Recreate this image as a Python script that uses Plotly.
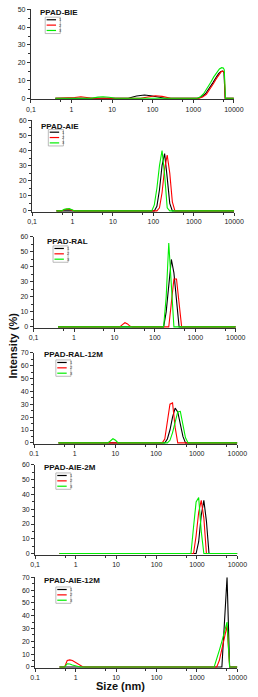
import plotly.graph_objects as go

# ---------------- DATA ----------------
panel_titles = ["PPAD-BIE", "PPAD-AIE", "PPAD-RAL", "PPAD-RAL-12M", "PPAD-AIE-2M", "PPAD-AIE-12M"]
series_names = ["1", "2", "3"]
y_max = [50, 60, 60, 70, 60, 70]
x_tickvals = [0.1, 1, 10, 100, 1000, 10000]
x_ticktext_comma = ["0,1", "1", "10", "100", "1000", "10000"]
x_ticktext_dot = ["0.1", "1", "10", "100", "1000", "10000"]

# PPAD-BIE
bie_1_size = [0.4, 25, 40, 63, 90, 140, 200, 1300, 1600, 2000, 2500, 3000, 3600, 4200, 4800, 5300, 5700, 6100, 10000]
bie_1_int = [0, 0, 1.2, 1.8, 1.4, 0.5, 0, 0, 0.8, 2.5, 5.5, 8.5, 11.5, 13.8, 15, 15.2, 14.5, 0, 0]
bie_2_size = [0.4, 0.9, 1.2, 1.7, 2.4, 3.3, 50, 80, 117, 170, 280, 1400, 1700, 2100, 2600, 3100, 3700, 4300, 4900, 5400, 5800, 6100, 10000]
bie_2_int = [0, 0, 0.4, 0.8, 0.5, 0, 0, 0.8, 1.4, 1.0, 0, 0, 0.6, 2.2, 5, 8, 11, 13.5, 15, 15.2, 14.5, 0, 0]
bie_3_size = [0.4, 3, 4.5, 6, 8.5, 12, 1250, 1500, 1800, 2200, 2700, 3200, 3800, 4400, 5000, 5500, 5800, 6200, 10000]
bie_3_int = [0, 0, 0.6, 0.8, 0.5, 0, 0, 0.8, 2.5, 5.5, 9, 12, 14.8, 16.5, 17.2, 17, 16, 0, 0]

# PPAD-AIE
aie_1_size = [0.4, 105.7, 122.4, 141.8, 164.2, 190.1, 220.2, 255, 295.3, 10000]
aie_1_int = [0, 0, 3, 14, 30, 38, 22, 5, 0, 0]
aie_2_size = [0.4, 0.5365, 0.6213, 0.7195, 0.8332, 0.9649, 1.117, 122.4, 141.8, 164.2, 190.1, 220.2, 255, 295.3, 342, 10000]
aie_2_int = [0, 0, 0.8, 1.2, 1.0, 0.3, 0, 0, 2, 12, 28, 37, 25, 6, 0, 0]
aie_3_size = [0.4, 0.5365, 0.6213, 0.7195, 0.8332, 0.9649, 1.117, 91.28, 105.7, 122.4, 141.8, 164.2, 190.1, 220.2, 255, 10000]
aie_3_int = [0, 0, 1.0, 1.5, 1.5, 0.8, 0, 0, 4, 15, 30, 40, 24, 2, 0, 0]

# PPAD-RAL
ral_1_size = [0.4, 164.2, 190.1, 220.2, 255, 295.3, 342, 396.1, 10000]
ral_1_int = [0, 0, 10, 30, 45, 36, 18, 0, 0]
ral_2_size = [0.4, 13.54, 15.69, 18.17, 21.04, 24.36, 28.21, 220.2, 255, 295.3, 342, 396.1, 458.7, 10000]
ral_2_int = [0, 0, 1.5, 2.8, 2.0, 0.4, 0, 0, 16, 32, 32, 14, 0, 0]
ral_3_size = [0.4, 164.2, 190.1, 220.2, 255, 295.3, 10000]
ral_3_int = [0, 0, 20, 56, 28, 0, 0]

# PPAD-RAL-12M
ral12_1_size = [0.4, 164.2, 190.1, 220.2, 255, 295.3, 342, 396.1, 458.7, 531.2, 10000]
ral12_1_int = [0, 0, 3, 10, 20, 27, 24, 15, 5, 0, 0]
ral12_2_size = [0.4, 141.8, 164.2, 190.1, 220.2, 255, 295.3, 342, 10000]
ral12_2_int = [0, 0, 3, 15, 30, 31, 12, 0, 0]
ral12_3_size = [0.4, 6.503, 7.531, 8.721, 10.1, 11.7, 190.1, 220.2, 255, 295.3, 342, 396.1, 458.7, 531.2, 615.1, 10000]
ral12_3_int = [0, 0, 1.5, 3.2, 2.0, 0, 0, 2, 8, 17, 24, 24.5, 14, 4, 0, 0]

# PPAD-AIE-2M
aie2_1_size = [0.4, 955.4, 1106, 1281, 1484, 1718, 1990, 10000]
aie2_1_int = [0, 0, 8, 26, 36, 22, 0, 0]
aie2_2_size = [0.4, 825, 955.4, 1106, 1281, 1484, 1718, 10000]
aie2_2_int = [0, 0, 12, 28, 36, 24, 0, 0]
aie2_3_size = [0.4, 712.4, 825, 955.4, 1106, 1281, 1484, 10000]
aie2_3_int = [0, 0, 18, 35, 38, 15, 0, 0]

# PPAD-AIE-12M
aie12_1_size = [0.4, 4145, 5560, 6439, 10000]
aie12_1_int = [0, 0, 70, 0, 0]
aie12_2_size = [0.4, 0.5365, 0.6213, 0.7195, 0.8332, 0.9649, 1.117, 1.294, 1.499, 1.736, 3091, 3580, 4145, 4801, 5560, 6439, 10000]
aie12_2_int = [0, 0, 5, 5.5, 5, 3.8, 2.2, 1, 0.2, 0, 0, 5, 14, 24, 32, 0, 0]
aie12_3_size = [0.4, 0.5365, 0.6213, 0.7195, 0.8332, 0.9649, 1.117, 1.294, 2669, 3091, 3580, 4145, 4801, 5560, 6439, 10000]
aie12_3_int = [0, 0, 2.5, 2.3, 1.5, 0.8, 0.2, 0, 0, 6, 13, 20, 28, 35, 0, 0]

panel_data = [
    [(bie_1_size, bie_1_int), (bie_2_size, bie_2_int), (bie_3_size, bie_3_int)],
    [(aie_1_size, aie_1_int), (aie_2_size, aie_2_int), (aie_3_size, aie_3_int)],
    [(ral_1_size, ral_1_int), (ral_2_size, ral_2_int), (ral_3_size, ral_3_int)],
    [(ral12_1_size, ral12_1_int), (ral12_2_size, ral12_2_int), (ral12_3_size, ral12_3_int)],
    [(aie2_1_size, aie2_1_int), (aie2_2_size, aie2_2_int), (aie2_3_size, aie2_3_int)],
    [(aie12_1_size, aie12_1_int), (aie12_2_size, aie12_2_int), (aie12_3_size, aie12_3_int)],
]

# ---------------- LAYOUT (pixel geometry) ----------------
W, H = 258, 697
colors = ["#000000", "#ff0000", "#00ee00"]
FONT = "Liberation Sans, Arial, sans-serif"
# per panel: y pixel of top tick, y pixel of zero, x pixel of 0.1, x pixel of 10000
geom = [
    (5.5, 95.0, 27.5, 243.0),
    (117.3, 208.7, 28.8, 243.3),
    (235.0, 325.7, 30.4, 245.0),
    (351.7, 442.7, 30.8, 246.7),
    (465.0, 554.3, 32.0, 246.7),
    (578.3, 668.7, 32.0, 246.7),
]
# title left x / centre y, legend box (left, top)
title_pos = [(35, 8.5), (36, 123.3), (42.7, 240), (39.3, 354), (39.3, 467.7), (39.3, 581.7)]
legend_pos = [(42.7, 13.3), (46, 126.7), (51, 244), (54, 359), (54, 473), (54, 588)]
tick_dot = [False, False, False, True, False, True]

fig = go.Figure()
layout = dict(
    width=W, height=H, margin=dict(l=0, r=0, t=0, b=0),
    paper_bgcolor="white", plot_bgcolor="white", showlegend=False,
    font=dict(family=FONT, size=7, color="#222"),
)
shapes = []
annotations = []

for i in range(6):
    n = i + 1
    ytop, y0, xl, xr = geom[i]
    ymax = y_max[i]
    pad = ymax * 0.012
    pxu = (y0 - ytop) / ymax
    ybot_px = y0 + pad * pxu
    xa = "xaxis" if n == 1 else f"xaxis{n}"
    ya = "yaxis" if n == 1 else f"yaxis{n}"
    xref = "x" if n == 1 else f"x{n}"
    yref = "y" if n == 1 else f"y{n}"
    for k, (sz, it) in enumerate(panel_data[i]):
        fig.add_trace(go.Scatter(x=sz, y=it, mode="lines", name=series_names[k],
                                 line=dict(color=colors[k], width=1.1),
                                 xaxis=xref, yaxis=yref, hoverinfo="skip"))
    layout[xa] = dict(
        type="log", range=[-1, 4], domain=[xl / W, xr / W], anchor=yref,
        showline=True, linecolor="#333", linewidth=1, showgrid=False, zeroline=False,
        ticks="outside", ticklen=3, tickwidth=1, tickcolor="#333",
        tickmode="array", tickvals=x_tickvals,
        ticktext=x_ticktext_dot if tick_dot[i] else x_ticktext_comma,
        tickfont=dict(size=7, family=FONT, color="#222"),
        minor=dict(tickmode="array", tickvals=[0.55, 5.5, 55, 550, 5500], ticks="outside",
                   ticklen=2, tickcolor="#333"),
    )
    layout[ya] = dict(
        range=[-pad, ymax], domain=[1 - ybot_px / H, 1 - ytop / H], anchor=xref,
        showline=True, linecolor="#333", linewidth=1, showgrid=False, zeroline=False,
        ticks="outside", ticklen=3, tickwidth=1, tickcolor="#333",
        tickmode="linear", tick0=0, dtick=10,
        tickfont=dict(size=7, family=FONT, color="#222"),
        minor=dict(tickmode="linear", tick0=5, dtick=10, ticks="outside", ticklen=2, tickcolor="#333"),
    )
    # panel title
    tx, ty = title_pos[i]
    annotations.append(dict(text=f"<b>{panel_titles[i]}</b>", x=tx / W, y=1 - ty / H,
                            xref="paper", yref="paper", xanchor="left", yanchor="middle",
                            showarrow=False, font=dict(size=8, family=FONT, color="#111")))
    # legend box
    lx, ly = legend_pos[i]
    bw, bh = 16, 16.5
    shapes.append(dict(type="rect", xref="paper", yref="paper",
                       x0=lx / W, x1=(lx + bw) / W, y0=1 - ly / H, y1=1 - (ly + bh) / H,
                       line=dict(color="#aaa", width=0.8), fillcolor="white"))
    for k in range(3):
        yy = ly + 2.6 + k * 5.4
        shapes.append(dict(type="line", xref="paper", yref="paper",
                           x0=(lx + 1.5) / W, x1=(lx + 11.5) / W, y0=1 - yy / H, y1=1 - yy / H,
                           line=dict(color=colors[k], width=1.2)))
        annotations.append(dict(text=series_names[k], x=(lx + 12.5) / W, y=1 - yy / H,
                                xref="paper", yref="paper", xanchor="left", yanchor="middle",
                                showarrow=False, font=dict(size=4, family=FONT, color="#333")))

annotations.append(dict(text="<b>Intensity (%)</b>", x=8 / W, y=1 - 345 / H, xref="paper", yref="paper",
                        xanchor="center", yanchor="middle", textangle=-90, showarrow=False,
                        font=dict(size=11, family=FONT, color="#111")))
annotations.append(dict(text="<b>Size (nm)</b>", x=123 / W, y=1 - 688 / H, xref="paper", yref="paper",
                        xanchor="center", yanchor="middle", showarrow=False,
                        font=dict(size=11, family=FONT, color="#111")))

layout["shapes"] = shapes
layout["annotations"] = annotations
fig.update_layout(**layout)
fig.write_html("out.html",
               config={"displayModeBar": False, "staticPlot": True},
               post_script="document.body.style.margin='0';document.body.style.padding='0';"
                           "document.documentElement.style.overflow='hidden';")
